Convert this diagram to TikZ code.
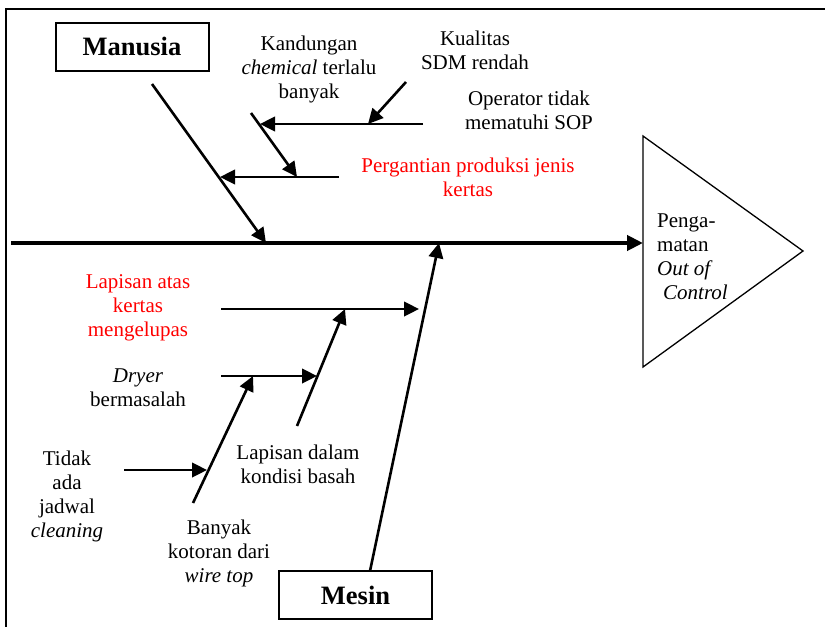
\documentclass[tikz,border=0pt]{standalone}
\usepackage{fontspec}
\setmainfont{Liberation Serif}
\usepackage{xcolor}
\usetikzlibrary{arrows.meta}

\begin{document}
\begin{tikzpicture}[
  x=1pt, y=-1pt,
  font=\fontsize{21}{24}\selectfont,
  box/.style={draw, line width=2pt, minimum width=153pt, minimum height=48pt, font=\fontsize{26.5}{30}\selectfont\bfseries},
  lbl/.style={align=center, inner sep=0pt},
  arr/.style={-{Triangle[length=15pt,width=14.5pt]}, line width=2.6pt},
  spine/.style={-{Triangle[length=16pt,width=15pt]}, line width=4pt}
]
\useasboundingbox (0,0) rectangle (825,627);
\draw[line width=2.5pt] (825,9) -- (6,9) -- (6,627);

\node[box] (manusia) at (132,46.5) {Manusia};
\node[box] (mesin) at (355.5,595) {Mesin};

\draw[line width=1.3pt] (643,136) -- (803,251) -- (643,367) -- cycle;
\node[lbl, align=left, anchor=west] (effect) at (657,256.5) {Penga-\\matan\\\textit{Out of}\\\hspace{6pt}\textit{Control}};

\node[lbl] (kand) at (309,69) {Kandungan\\\textit{chemical} terlalu\\banyak};
\node[lbl] (kual) at (475,50.5) {Kualitas\\SDM rendah};
\node[lbl] (oper) at (529,110.5) {Operator tidak\\mematuhi SOP};
\node[lbl, text=red] (perg) at (468,177.5) {Pergantian produksi jenis\\kertas};
\node[lbl, text=red] (lapatas) at (138,308) {Lapisan atas\\kertas\\mengelupas};
\node[lbl] (dryer) at (138,387.5) {\textit{Dryer}\\bermasalah};
\node[lbl] (tidak) at (67,496) {Tidak\\ada\\jadwal\\\textit{cleaning}};
\node[lbl] (lapdalam) at (298,464) {Lapisan dalam\\kondisi basah};
\node[lbl] (banyak) at (219,553.5) {Banyak\\kotoran dari\\\textit{wire top}};

\coordinate (tail) at (11,243);
\coordinate (head) at (643,243);
\coordinate (m0) at (152,84);
\coordinate (m1) at (266,243);
\coordinate (p0) at (339,177);
\coordinate (p1) at (220,177);
\coordinate (k0) at (251,113);
\coordinate (k1) at (297,177);
\coordinate (o0) at (423,124);
\coordinate (o1) at (260,124);
\coordinate (q0) at (406,82);
\coordinate (q1) at (368,124);
\coordinate (s0) at (370,571);
\coordinate (s1) at (439,243);
\coordinate (a0) at (221,309);
\coordinate (a1) at (419,309);
\coordinate (d0) at (297,426);
\coordinate (d1) at (345,309);
\coordinate (r0) at (221,376);
\coordinate (r1) at (317,376);
\coordinate (b0) at (193,503);
\coordinate (b1) at (253,376);
\coordinate (t0) at (124,470);
\coordinate (t1) at (207,470);

\draw[spine] (tail) -- (head);
\draw[arr] (m0) -- (m1);
\draw[arr] (p0) -- (p1);
\draw[arr] (k0) -- (k1);
\draw[arr] (o0) -- (o1);
\draw[arr] (q0) -- (q1);
\draw[arr] (s0) -- (s1);
\draw[arr] (a0) -- (a1);
\draw[arr] (d0) -- (d1);
\draw[arr] (r0) -- (r1);
\draw[arr] (b0) -- (b1);
\draw[arr] (t0) -- (t1);
\end{tikzpicture}
\end{document}
